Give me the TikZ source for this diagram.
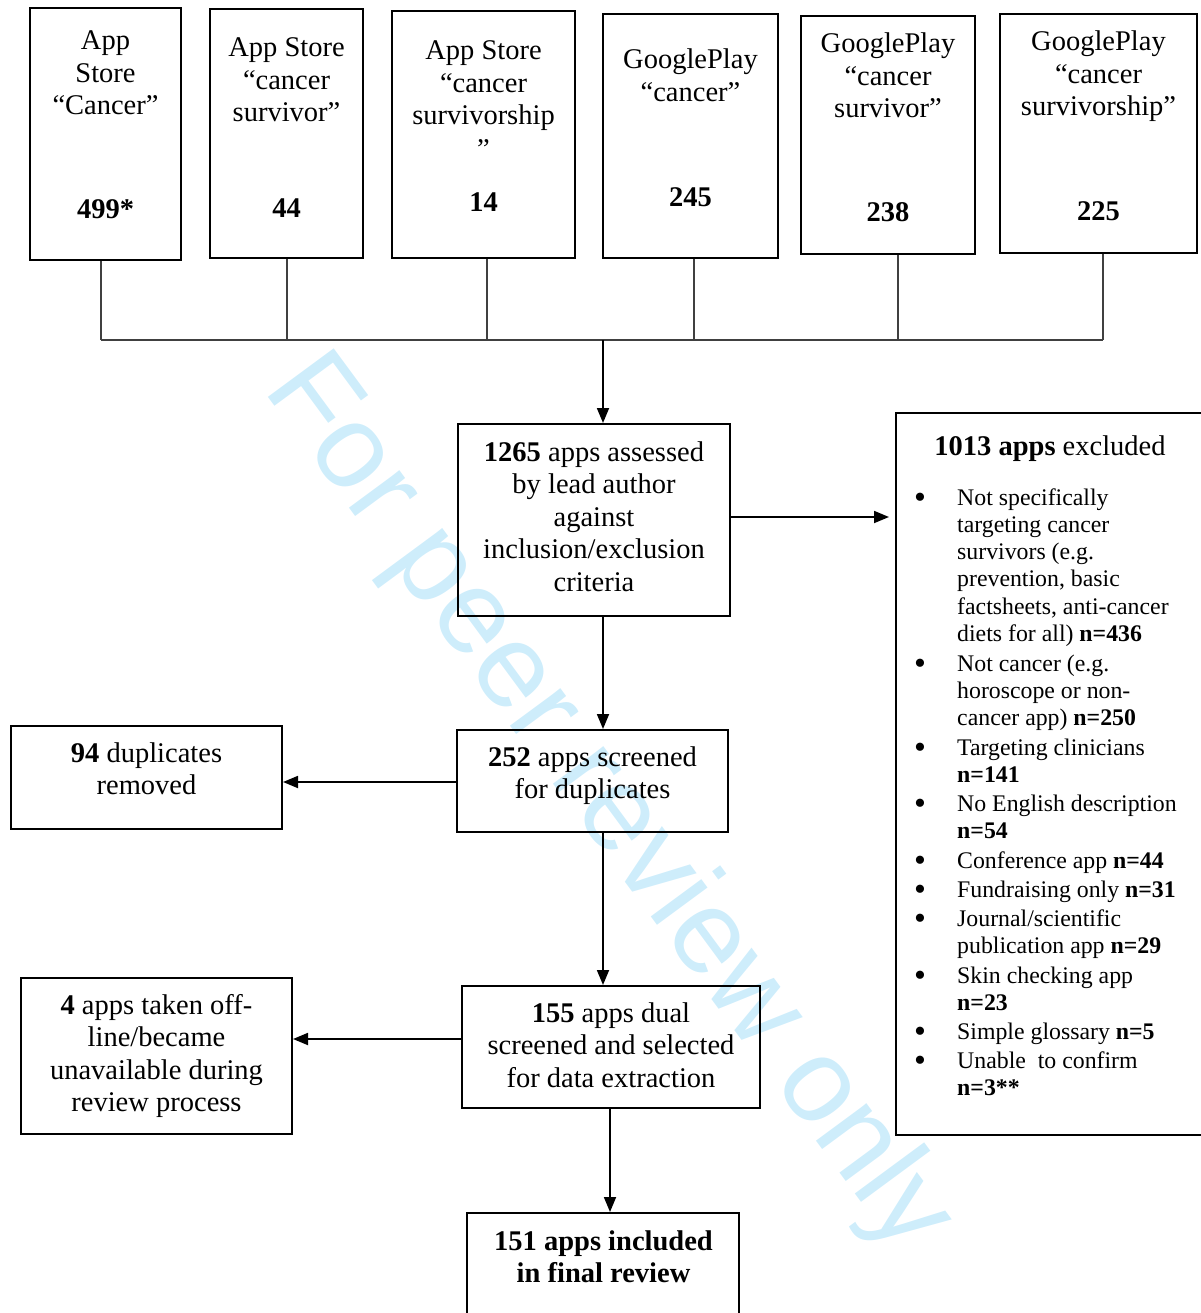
\documentclass[tikz,border=0pt]{standalone}
\usepackage{fontspec}
\setmainfont{Liberation Serif}
\newfontfamily\wmfont{Liberation Sans}
\usetikzlibrary{arrows.meta}
\newcommand{\bigf}{\fontsize{28.5}{32.5}\selectfont}
\newcommand{\smallf}{\fontsize{23.8}{27.3}\selectfont}
\newcommand{\mlc}[1]{\begin{tabular}[t]{@{}c@{}}#1\end{tabular}}
\newcommand{\mll}[1]{\begin{tabular}[t]{@{}l@{}}#1\end{tabular}}
\definecolor{wmc}{RGB}{206,237,251}
\tikzset{
  box/.style={draw, line width=2pt, inner sep=0pt},
  txt/.style={inner sep=0pt, anchor=base, font=\bigf},
  num/.style={inner sep=0pt, anchor=base, font=\bigf\bfseries},
  itm/.style={inner sep=0pt, anchor=base west, font=\smallf},
  bul/.style={inner sep=0pt, anchor=center, font=\fontsize{34}{34}\selectfont},
  arr/.style={line width=1.8pt, -{Triangle[length=15pt,width=12pt]}},
  con/.style={line width=1.1pt, draw=black!75},
  wm/.style={inner sep=0pt, font=\wmfont\fontsize{119}{119}\selectfont, text=wmc, rotate=-53.6}
}
\begin{document}
\begin{tikzpicture}[x=1pt,y=-1pt]
\useasboundingbox (0,0) rectangle (1200,1313);
% watermark
\node[wm] (wm) at (607,805) {For peer review only};

% top boxes
\node[box, minimum width=151pt, minimum height=252pt] (s1) at (105.5,134) {};
\node[box, minimum width=153pt, minimum height=249pt] (s2) at (286.5,133.5) {};
\node[box, minimum width=183pt, minimum height=247pt] (s3) at (483.5,134.5) {};
\node[box, minimum width=175pt, minimum height=244pt] (s4) at (690.5,136) {};
\node[box, minimum width=174pt, minimum height=238pt] (s5) at (888,135) {};
\node[box, minimum width=197pt, minimum height=239pt] (s6) at (1098.5,133.5) {};

\node[txt] (t1) at (105.5,50) {\mlc{App\\Store\\“Cancer”}};
\node[num] (n1) at (105.5,219) {499*};
\node[txt] (t2) at (286.5,57) {\mlc{App Store\\“cancer\\survivor”}};
\node[num] (n2) at (286.5,218) {44};
\node[txt] (t3) at (483.5,60) {\mlc{App Store\\“cancer\\survivorship}};
\node[txt] (t3b) at (483.5,159) {”};
\node[num] (n3) at (483.5,212) {14};
\node[txt] (t4) at (690.5,69) {\mlc{GooglePlay\\“cancer”}};
\node[num] (n4) at (690.5,207) {245};
\node[txt] (t5) at (888,53) {\mlc{GooglePlay\\“cancer\\survivor”}};
\node[num] (n5) at (888,222) {238};
\node[txt] (t6) at (1098.5,51) {\mlc{GooglePlay\\“cancer\\survivorship”}};
\node[num] (n6) at (1098.5,221) {225};

% junction
\coordinate (j1) at (101,340);
\coordinate (j2) at (287,340);
\coordinate (j3) at (487,340);
\coordinate (j4) at (694,340);
\coordinate (j5) at (898,340);
\coordinate (j6) at (1103,340);
\coordinate (j0) at (603,340);
\draw[con] (s1.south -| j1) -- (j1);
\draw[con] (s2.south -| j2) -- (j2);
\draw[con] (s3.south -| j3) -- (j3);
\draw[con] (s4.south -| j4) -- (j4);
\draw[con] (s5.south -| j5) -- (j5);
\draw[con] (s6.south -| j6) -- (j6);
\draw[con] (j1) -- (j6);

% main column
\node[box, minimum width=272pt, minimum height=192pt] (a) at (594,520) {};
\node[txt] (at) at (594,461) {\mlc{\textbf{1265} apps assessed\\by lead author\\against\\inclusion/exclusion\\criteria}};

\node[box, minimum width=271pt, minimum height=102pt] (b) at (592.5,781) {};
\node[txt] (bt) at (592.5,766) {\mlc{\textbf{252} apps screened\\for duplicates}};

\node[box, minimum width=271pt, minimum height=103pt] (d) at (146.5,777.5) {};
\node[txt] (dt) at (146.5,762) {\mlc{\textbf{94} duplicates\\removed}};

\node[box, minimum width=298pt, minimum height=122pt] (c) at (611,1047) {};
\node[txt] (ct) at (611,1022) {\mlc{\textbf{155} apps dual\\screened and selected\\for data extraction}};

\node[box, minimum width=271pt, minimum height=156pt] (o) at (156.5,1056) {};
\node[txt] (ot) at (156.5,1014) {\mlc{\textbf{4} apps taken off-\\line/became\\unavailable during\\review process}};

\node[box, minimum width=272pt, minimum height=130pt] (f) at (603,1278) {};
\node[num] (ft) at (603.5,1250) {\mlc{151 apps included\\in final review}};

% exclusion box
\node[box, minimum width=320pt, minimum height=722pt] (e) at (1056,774) {};
\node[txt] (et) at (1050,455) {\textbf{1013 apps} excluded};
\foreach \y [count=\i] in {505,671,755,811,868,897,926,983,1039,1068}
  \node[bul] (bu\i) at (920,\y-4) {•};
\node[itm] (e1) at (957,505) {\mll{Not specifically\\targeting cancer\\survivors (e.g.\\prevention, basic\\factsheets, anti-cancer\\diets for all) \textbf{n=436}}};
\node[itm] (e2) at (957,671) {\mll{Not cancer (e.g.\\horoscope or non-\\cancer app) \textbf{n=250}}};
\node[itm] (e3) at (957,755) {\mll{Targeting clinicians\\\textbf{n=141}}};
\node[itm] (e4) at (957,811) {\mll{No English description\\\textbf{n=54}}};
\node[itm] (e5) at (957,868) {Conference app \textbf{n=44}};
\node[itm] (e6) at (957,897) {Fundraising only \textbf{n=31}};
\node[itm] (e7) at (957,926) {\mll{Journal/scientific\\publication app \textbf{n=29}}};
\node[itm] (e8) at (957,983) {\mll{Skin checking app\\\textbf{n=23}}};
\node[itm] (e9) at (957,1039) {Simple glossary \textbf{n=5}};
\node[itm] (e10) at (957,1068) {\mll{Unable~ to confirm\\\textbf{n=3**}}};

% arrows
\coordinate (h1) at (730,517);
\coordinate (h2) at (457,782);
\coordinate (h3) at (462,1039);
\coordinate (k0) at (610,1108);
\draw[arr] (j0) -- (a.north -| j0);
\draw[arr] (a.south -| j0) -- (b.north -| j0);
\draw[arr, shorten >=6pt] (a.east |- h1) -- (e.west |- h1);
\draw[arr] (b.west |- h2) -- (d.east |- h2);
\draw[arr] (b.south -| j0) -- (c.north -| j0);
\draw[arr] (c.west |- h3) -- (o.east |- h3);
\draw[arr] (c.south -| k0) -- (f.north -| k0);
\end{tikzpicture}
\end{document}
